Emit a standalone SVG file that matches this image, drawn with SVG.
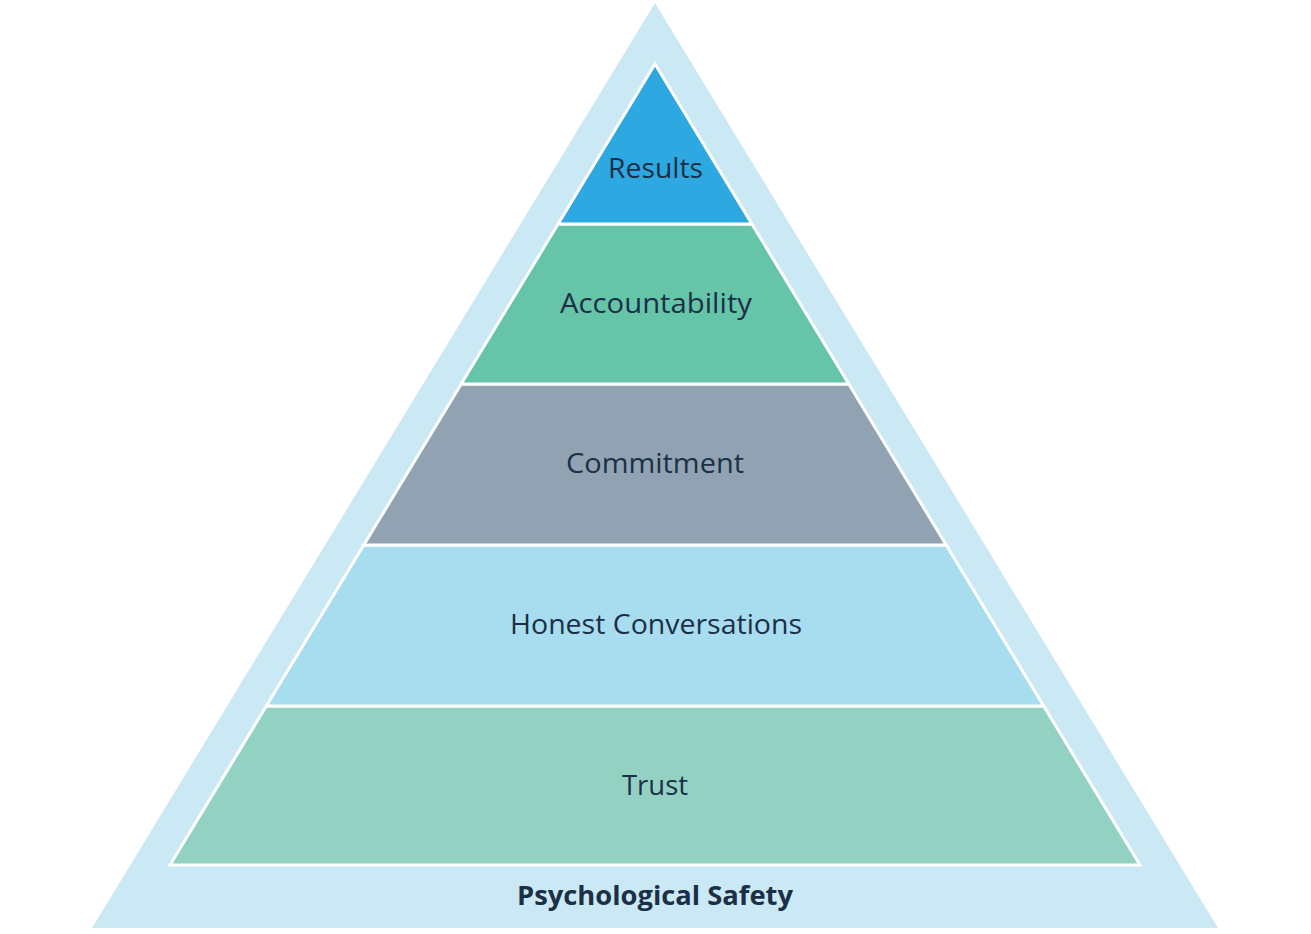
<svg xmlns="http://www.w3.org/2000/svg" width="1311" height="934" viewBox="0 0 1311 934">
<style>
.layer{stroke:#FFFFFF;stroke-width:3;stroke-linejoin:miter}
.lbl{font-family:"Open Sans","Noto Sans","Liberation Sans",sans-serif;font-size:27px;fill:#1B3047;text-anchor:middle}
.base{font-family:"Open Sans","Noto Sans","Liberation Sans",sans-serif;font-size:27px;font-weight:bold;fill:#1B3047;text-anchor:middle}
</style>
<rect width="1311" height="934" fill="#FFFFFF"/>
<g id="outer">
<polygon points="655,3 1218,928 92,928" fill="#CBE9F4"/>
<text class="base" x="655" y="905" textLength="276" lengthAdjust="spacingAndGlyphs">Psychological Safety</text>
</g>
<g id="trust">
<polygon class="layer" points="266.3,706 1043.7,706 1140,865 170,865" fill="#93D2C2"/>
<text class="lbl" x="655" y="795" textLength="66" lengthAdjust="spacingAndGlyphs">Trust</text>
</g>
<g id="honest">
<polygon class="layer" points="363.8,545 946.2,545 1043.7,706 266.3,706" fill="#A7DDEE"/>
<text class="lbl" x="656" y="634" textLength="292" lengthAdjust="spacingAndGlyphs">Honest Conversations</text>
</g>
<g id="commitment">
<polygon class="layer" points="461.2,384 848.8,384 946.2,545 363.8,545" fill="#91A3B2"/>
<text class="lbl" x="655" y="473" textLength="178" lengthAdjust="spacingAndGlyphs">Commitment</text>
</g>
<g id="accountability">
<polygon class="layer" points="558.1,224 751.9,224 848.8,384 461.2,384" fill="#66C4A9"/>
<text class="lbl" x="656" y="313" textLength="192" lengthAdjust="spacingAndGlyphs">Accountability</text>
</g>
<g id="results">
<polygon class="layer" points="655,64 751.9,224 558.1,224" fill="#2EA8E0"/>
<text class="lbl" x="655.5" y="178" textLength="95" lengthAdjust="spacingAndGlyphs">Results</text>
</g>
<g id="connectors"></g>
</svg>
